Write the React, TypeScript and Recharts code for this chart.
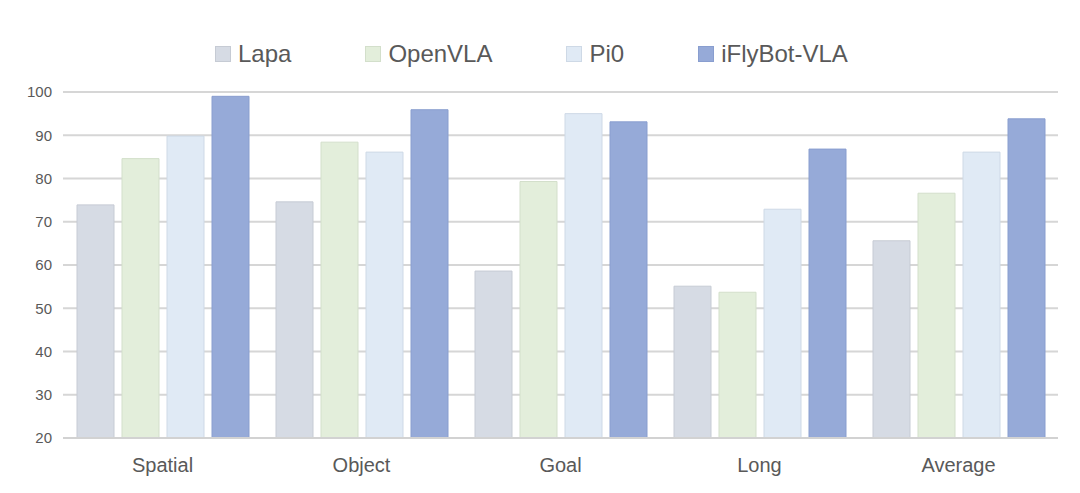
import React from "react";
import {
  BarChart,
  Bar,
  XAxis,
  YAxis,
  CartesianGrid,
  Legend,
} from "recharts";

const CATEGORIES = ["Spatial", "Object", "Goal", "Long", "Average"];
const LAPA = [73.9, 74.6, 58.6, 55.1, 65.6];
const OPENVLA = [84.6, 88.4, 79.3, 53.7, 76.6];
const PI0 = [89.8, 86.1, 95.0, 72.9, 86.1];
const IFLYBOT = [99.0, 95.9, 93.1, 86.8, 93.8];
const Y_TICKS = [20, 30, 40, 50, 60, 70, 80, 90, 100];

const SERIES = [
  { key: "Lapa", fill: "#d6dbe4", stroke: "#c6cbd4" },
  { key: "OpenVLA", fill: "#e3eedb", stroke: "#d3dfcb" },
  { key: "Pi0", fill: "#e0eaf5", stroke: "#ced9e6" },
  { key: "iFlyBot-VLA", fill: "#96aad8", stroke: "#899ecf" },
];

const data = CATEGORIES.map((name, i) => ({
  name,
  Lapa: LAPA[i],
  OpenVLA: OPENVLA[i],
  Pi0: PI0[i],
  "iFlyBot-VLA": IFLYBOT[i],
}));

const FONT = "'Liberation Sans', Arial, sans-serif";
const TEXT = "#595959";

// legend box is 72px tall so the plot starts at y=92 (margin.top 20 + 72)
const LegendRow = () => (
  <div
    style={{
      height: 72,
      display: "flex",
      alignItems: "flex-start",
      paddingLeft: 215,
      paddingTop: 20,
      boxSizing: "border-box",
      fontFamily: FONT,
      fontSize: 24,
      color: TEXT,
    }}
  >
    {SERIES.map((s) => (
      <div key={s.key} style={{ display: "flex", alignItems: "center", marginRight: 74, height: 28 }}>
        <span
          style={{
            display: "inline-block",
            width: 16,
            height: 16,
            background: s.fill,
            border: `1px solid ${s.stroke}`,
            boxSizing: "border-box",
            marginRight: 7,
          }}
        />
        <span style={{ lineHeight: "28px" }}>{s.key}</span>
      </div>
    ))}
  </div>
);

export default function App() {
  return (
    <div style={{ position: "absolute", left: 0, top: 0, background: "#fff" }}>
      <BarChart
        width={1080}
        height={493}
        data={data}
        margin={{ top: 20, right: 22, bottom: 25, left: 0 }}
        barSize={37}
        barGap={8}
      >
        <Legend
          verticalAlign="top"
          content={() => <LegendRow />}
          wrapperStyle={{ left: 0, width: 1080 }}
        />
        <CartesianGrid vertical={false} stroke="#d6d6d6" strokeWidth={2} />
        <XAxis
          dataKey="name"
          tickLine={false}
          axisLine={{ stroke: "#d2d2d2", strokeWidth: 2 }}
          tick={{ fill: TEXT, fontSize: 20, fontFamily: FONT }}
          tickMargin={14}
        />
        <YAxis
          domain={[20, 100]}
          ticks={Y_TICKS}
          width={63}
          axisLine={false}
          tickLine={false}
          tickMargin={5}
          tick={{ fill: TEXT, fontSize: 15, fontFamily: FONT }}
        />
        {SERIES.map((s) => (
          <Bar
            key={s.key}
            dataKey={s.key}
            fill={s.fill}
            stroke={s.stroke}
            strokeWidth={1}
            isAnimationActive={false}
          />
        ))}
      </BarChart>
    </div>
  );
}
